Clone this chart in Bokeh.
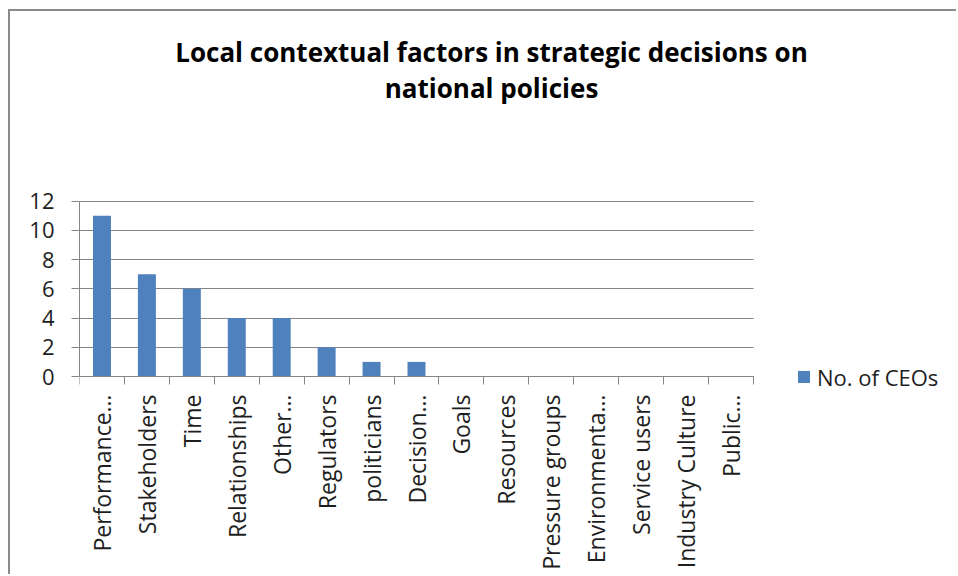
import math
from bokeh.plotting import figure
from bokeh.models import ColumnDataSource, FixedTicker, Label, Legend, LegendItem, Range1d
from bokeh.embed import file_html
from bokeh.resources import INLINE

categories = ["Performance…", "Stakeholders", "Time", "Relationships", "Other…",
              "Regulators", "politicians", "Decision…", "Goals", "Resources",
              "Pressure groups", "Environmenta…", "Service users", "Industry Culture", "Public…"]
ceos = [11, 7, 6, 4, 4, 2, 1, 1, 0, 0, 0, 0, 0, 0, 0]
y_ticks = [0, 2, 4, 6, 8, 10, 12]
title_lines = ["Local contextual factors in strategic decisions on", "national policies"]
series_name = "No. of CEOs"

FONT = "Open Sans"
GRID = "#868686"
TXT = "#1e1e1e"

n = len(categories)
y_max = y_ticks[-1]
centers = [i + 0.5 for i in range(n)]
src = ColumnDataSource(dict(x=centers, top=ceos, cat=categories))

# layout in pixels (page coordinates)
CX0, CY0 = 10, 11          # canvas origin on the page
W, H = 958 - CX0, 576 - CY0
PL, PR, PT, PB = 79, 753, 200.7, 376   # plot area of the bars
FL = PL - CX0              # left panel width
xpx = (PR - PL) / n
ypx = (PB - PT) / y_max
x_end = (CX0 + W - PL) / xpx
y_end = (PB - CY0) / ypx
y_start = -(CY0 + H - PB) / ypx

p = figure(width=W, height=H, x_range=Range1d(0, x_end), y_range=Range1d(y_start, y_end),
           output_backend="svg", toolbar_location=None,
           min_border_left=FL, min_border_right=0, min_border_top=0, min_border_bottom=0)
p.margin = (CY0 - 2, 0, 0, CX0 - 2)
p.styles = {"border-top": "2px solid #8a8a8a", "border-left": "2px solid #8a8a8a"}
p.outline_line_color = None
p.background_fill_color = "white"
p.border_fill_color = "white"
p.title.visible = False

r = p.vbar(x="x", top="top", bottom=0, width=0.4, source=src,
           fill_color="#4F81BD", line_color=None)

p.xgrid.visible = False
p.ygrid.ticker = FixedTicker(ticks=y_ticks)
p.ygrid.grid_line_color = GRID
p.ygrid.grid_line_width = 1
p.ygrid.bounds = (0, y_max)
try:
    p.ygrid.cross_bounds = (0, n)
except Exception:
    pass

xa = p.xaxis[0]
xa.fixed_location = 0
xa.bounds = (0, n)
xa.ticker = FixedTicker(ticks=centers, minor_ticks=list(range(n + 1)))
xa.major_label_overrides = {c: name for c, name in zip(centers, categories)}
xa.major_tick_out = 0
xa.major_tick_in = 0
xa.minor_tick_out = 8
xa.minor_tick_in = 0
xa.minor_tick_line_color = GRID
xa.axis_line_color = GRID
xa.major_label_orientation = math.pi / 2
xa.major_label_text_font = FONT
xa.major_label_text_font_size = "23px"
xa.major_label_text_color = TXT
xa.major_label_standoff = 10

ya = p.yaxis[0]
ya.bounds = (0, y_max)
ya.ticker = FixedTicker(ticks=y_ticks)
ya.major_tick_out = 8
ya.major_tick_in = 0
ya.major_tick_line_color = GRID
ya.minor_tick_line_color = None
ya.axis_line_color = GRID
ya.major_label_text_font = FONT
ya.major_label_text_font_size = "22px"
ya.major_label_text_color = TXT
ya.major_label_standoff = 17

FB = CY0 + H  # frame bottom on page
for txt, base in zip(title_lines, [51, 87]):
    p.add_layout(Label(x=491 - PL, y=FB - base, x_units="screen", y_units="screen", text=txt,
                       text_align="center", text_baseline="alphabetic",
                       text_font=FONT, text_font_size="26px", text_font_style="bold",
                       text_color="#000000"))

legend = Legend(items=[LegendItem(label=series_name, renderers=[r])],
                location=(796 - PL, FB - 391.5), padding=0, margin=0, border_line_color=None,
                background_fill_alpha=0, label_text_font=FONT, label_text_font_size="22px",
                label_text_color=TXT, glyph_width=15, glyph_height=15, label_standoff=6)
p.add_layout(legend)

open("out.html", "w").write(file_html(p, INLINE))
